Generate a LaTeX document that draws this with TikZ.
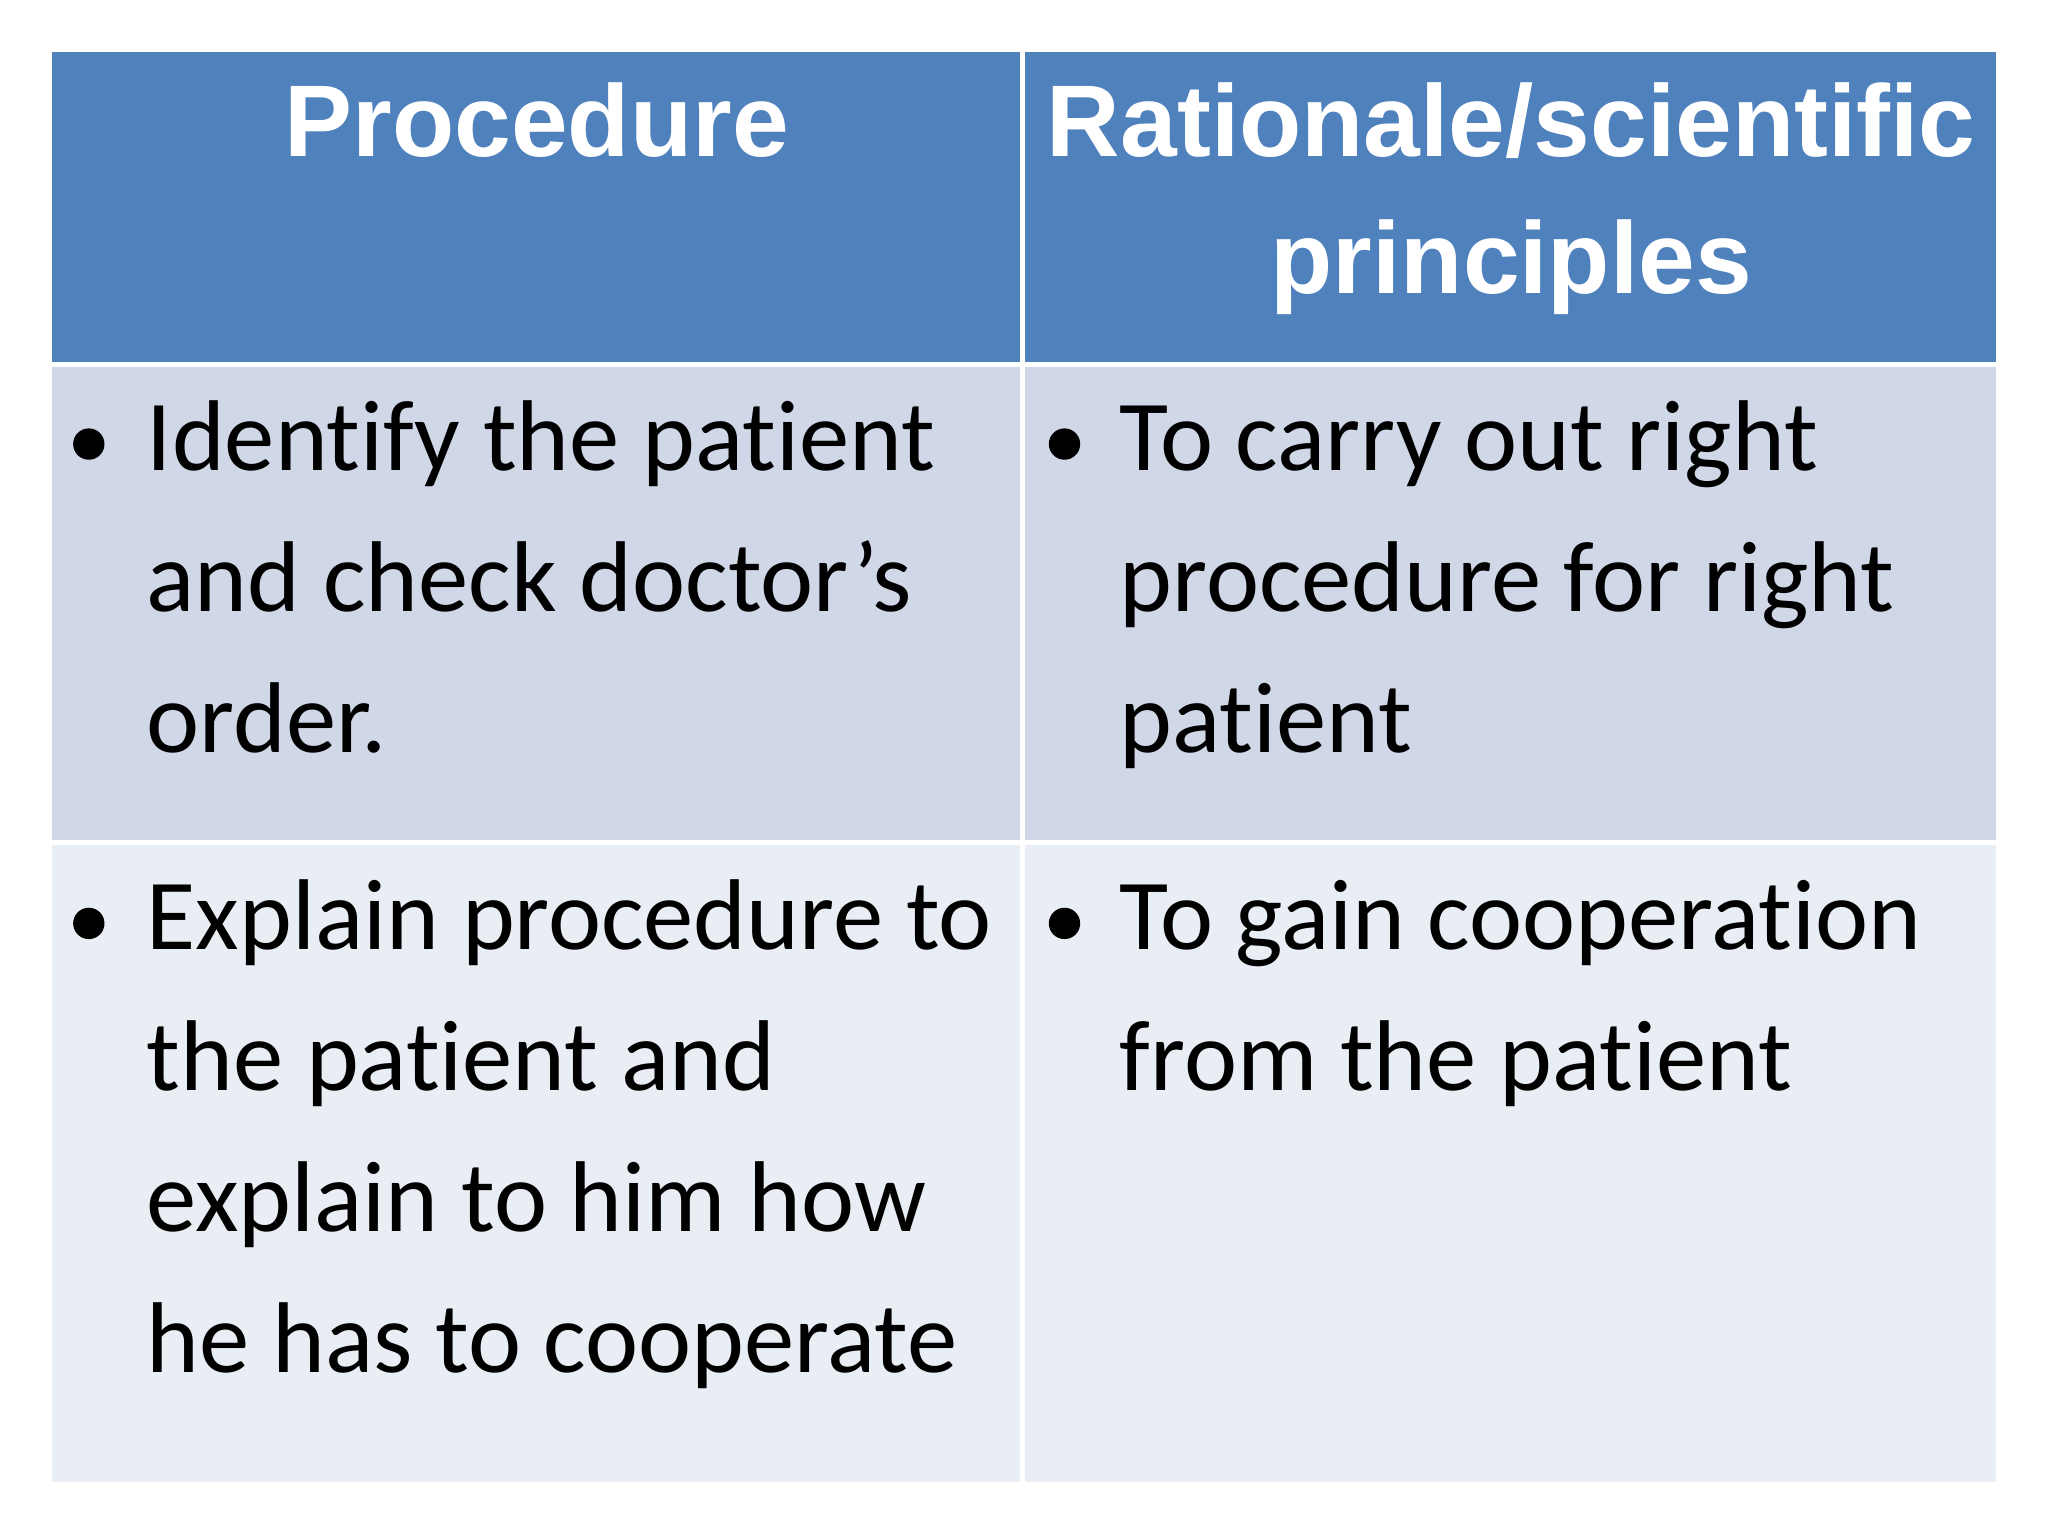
\documentclass[tikz,border=0pt]{standalone}
\usepackage{fontspec}
\setmainfont[Ligatures=NoCommon]{Carlito}
\newfontfamily\hdfont{Liberation Sans}
\definecolor{hdr}{HTML}{4F81BD}
\definecolor{rowa}{HTML}{D0D8E8}
\definecolor{rowb}{HTML}{E9EDF4}
\begin{document}
\begin{tikzpicture}[x=1pt,y=1pt,
  body/.style={anchor=base west,inner sep=0pt,font=\fontsize{38.5}{54}\selectfont,text=black},
  bul/.style={circle,fill=black,inner sep=0pt,minimum size=12pt},
  head/.style={anchor=base,inner sep=0pt,font=\hdfont\bfseries\fontsize{39}{54}\selectfont,text=white}]
\useasboundingbox[fill=white] (0,0) rectangle (784,588);
% cells
\fill[hdr] (20,449.5) rectangle (390.5,568);
\fill[hdr] (392.5,449.5) rectangle (764,568);
\fill[rowa] (20,266.5) rectangle (390.5,447.5);
\fill[rowa] (392.5,266.5) rectangle (764,447.5);
\fill[rowb] (20,20.5) rectangle (390.5,264.5);
\fill[rowb] (392.5,20.5) rectangle (764,264.5);
% header
\node[head] (h1) at (205.5,528) {Procedure};
\node[head] (h2) at (578.5,528) {Rationale/scientific};
\node[head] (h3) at (578.5,475.5) {principles};
% row 1
\node[bul] (b1) at (34,418) {};
\node[body] (t11) at (56,408) {Identify the patient};
\node[body] (t12) at (56,354) {and check doctor’s};
\node[body] (t13) at (56,300) {order.};
\node[bul] (b2) at (407.5,418) {};
\node[body] (t21) at (428.5,408) {To carry out right};
\node[body] (t22) at (428.5,354) {procedure for right};
\node[body] (t23) at (428.5,300) {patient};
% row 2
\node[bul] (b3) at (34,234.5) {};
\node[body] (t31) at (56,224.5) {Explain procedure to};
\node[body] (t32) at (56,170.5) {the patient and};
\node[body] (t33) at (56,116.5) {explain to him how};
\node[body] (t34) at (56,62.5) {he has to cooperate};
\node[bul] (b4) at (407.5,234.5) {};
\node[body] (t41) at (428.5,224.5) {To gain cooperation};
\node[body] (t42) at (428.5,170.5) {from the patient};
\end{tikzpicture}
\end{document}
